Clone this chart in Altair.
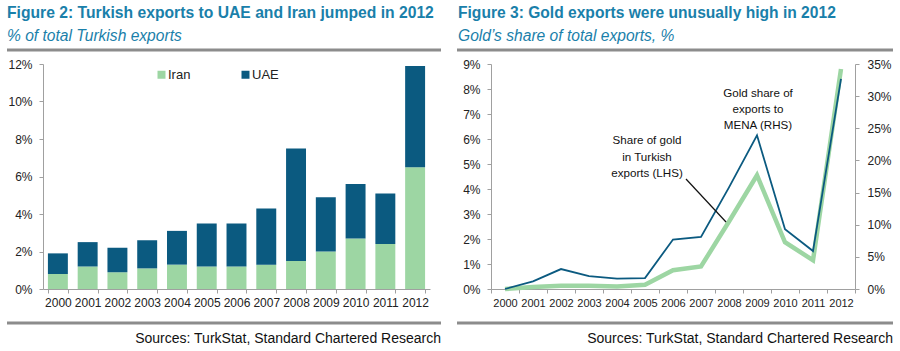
import altair as alt
import pandas as pd

# ---------------- data ----------------
years = [str(y) for y in range(2000, 2013)]
iran = [0.8, 1.2, 0.9, 1.1, 1.3, 1.2, 1.2, 1.3, 1.5, 2.0, 2.7, 2.4, 6.5]
uae = [1.1, 1.3, 1.3, 1.5, 1.8, 2.3, 2.3, 3.0, 6.0, 2.9, 2.9, 2.7, 5.4]
countries = ["Iran", "UAE"]

gold_total = [0.0, 0.08, 0.13, 0.13, 0.1, 0.17, 0.75, 0.9, 2.7, 4.55, 1.87, 1.15, 8.8]   # LHS
gold_mena = [0.0, 1.2, 3.1, 2.0, 1.6, 1.7, 7.7, 8.1, 15.8, 23.9, 9.3, 5.9, 32.7]         # RHS

left_ticks = [0, 2, 4, 6, 8, 10, 12]
lhs_ticks = [0, 1, 2, 3, 4, 5, 6, 7, 8, 9]
rhs_ticks = [0, 5, 10, 15, 20, 25, 30, 35]

title_left = "Figure 2: Turkish exports to UAE and Iran jumped in 2012"
subtitle_left = "% of total Turkish exports"
title_right = "Figure 3: Gold exports were unusually high in 2012"
subtitle_right = "Gold\u2019s share of total exports, %"
source = "Sources: TurkStat, Standard Chartered Research"
note_mena = ["Gold share of", "exports to", "MENA (RHS)"]
note_total = ["Share of gold", "in Turkish", "exports (LHS)"]

# ---------------- style ----------------
FONT = "Liberation Sans"
GREEN = "#9dd6a3"
BLUE = "#0b5a80"
TEAL = "#1a80aa"
GREY = "#8c8c8c"
AX = "#a0a0a0"

one = pd.DataFrame({"k": [0]})


def text(s, x, y, size, align="left", **kw):
    return alt.Chart(one).mark_text(
        text=s, font=FONT, fontSize=size, align=align, baseline="alphabetic", **kw
    ).encode(x=alt.value(x), y=alt.value(y))


def hrule(x1, x2, y, width=3):
    return alt.Chart(one).mark_rule(color=GREY, strokeWidth=width).encode(
        x=alt.value(x1), x2=alt.value(x2), y=alt.value(y)
    )


def bg(x1, x2, y1, y2):
    # invisible frame that fixes the panel's extent on the page
    return alt.Chart(one).mark_rect(fill="white", opacity=0).encode(
        x=alt.value(x1), x2=alt.value(x2), y=alt.value(y1), y2=alt.value(y2)
    )


# ---------------- left panel ----------------
bars_df = pd.DataFrame({
    "year": years * 2,
    "country": ["Iran"] * len(years) + ["UAE"] * len(years),
    "value": iran + uae,
    "ord": [0] * len(years) + [1] * len(years),
})

bars = alt.Chart(bars_df).mark_bar().encode(
    x=alt.X("year:N", sort=years,
            scale=alt.Scale(paddingInner=0.33, paddingOuter=0.165),
            axis=alt.Axis(title=None, labelAngle=0, tickBand="extent", labelFontSize=12,
                          tickSize=4, labelPadding=4)),
    y=alt.Y("value:Q", stack="zero", scale=alt.Scale(domain=[0, 12], nice=False),
            axis=alt.Axis(title=None, values=left_ticks, labelExpr="datum.value + '%'",
                          labelFontSize=12, tickSize=4, labelPadding=7)),
    color=alt.Color("country:N", scale=alt.Scale(domain=countries, range=[GREEN, BLUE]),
                    legend=alt.Legend(title=None, orient="none", legendX=112, legendY=4,
                                      direction="horizontal", symbolType="square",
                                      symbolSize=64, symbolStrokeWidth=0, labelFontSize=13,
                                      labelFont=FONT, labelColor="#222",
                                      columnPadding=48, symbolOffset=0, labelOffset=0)),
    order=alt.Order("ord:Q"),
)

left = alt.layer(
    bg(-43, 407, -64, 287),
    bars,
    text(title_left, -36, -46, 15.7, fontWeight="bold", color=TEAL),
    text(subtitle_left, -36, -23, 15.6, fontStyle="italic", color=TEAL),
    hrule(-36, 398, -14),
    hrule(-36, 398, 259),
    text(source, 398, 279, 14, align="right", color="#111"),
).properties(width=387, height=225)

# ---------------- right panel ----------------
gold_df = pd.DataFrame({"year": years, "total": gold_total, "mena": gold_mena})

xr = alt.X("year:N", sort=years, bandPosition=0.5,
           scale=alt.Scale(type="band", paddingInner=0, paddingOuter=0),
           axis=alt.Axis(title=None, labelAngle=0, tickBand="extent", labelFontSize=11,
                         tickSize=4, labelPadding=4))

green_line = alt.Chart(gold_df).mark_line(color=GREEN, strokeWidth=4.5).encode(
    x=xr,
    y=alt.Y("total:Q", scale=alt.Scale(domain=[0, 9], nice=False),
            axis=alt.Axis(orient="left", title=None, values=lhs_ticks,
                          labelExpr="datum.value + '%'", labelFontSize=12,
                          tickSize=4, labelPadding=7)),
)
blue_line = alt.Chart(gold_df).mark_line(color=BLUE, strokeWidth=1.8).encode(
    x=xr,
    y=alt.Y("mena:Q", scale=alt.Scale(domain=[0, 35], nice=False),
            axis=alt.Axis(orient="right", title=None, values=rhs_ticks,
                          labelExpr="datum.value + '%'", labelFontSize=12,
                          tickSize=4, labelPadding=8)),
)

right = alt.layer(
    bg(-41, 409, -64, 287),
    green_line,
    blue_line,
    text(note_mena, 267, 33, 11.6, align="center", color="#111", lineHeight=16),
    text(note_total, 156, 80, 11.6, align="center", color="#111", lineHeight=16.5),
    alt.Chart(one).mark_rule(color="#111", strokeWidth=1.2).encode(
        x=alt.value(195), y=alt.value(115), x2=alt.value(235), y2=alt.value(158)),
    text(title_right, -33, -46, 15.6, fontWeight="bold", color=TEAL),
    text(subtitle_right, -33, -23, 15.6, fontStyle="italic", color=TEAL),
    hrule(-34, 402, -14),
    hrule(-34, 402, 259),
    text(source, 402, 279, 14, align="right", color="#111"),
).resolve_scale(y="independent").properties(width=364, height=225)

chart = alt.hconcat(left, right, spacing=61, bounds="flush").properties(
    padding=0, background="white"
).configure_view(stroke=None).configure_axis(
    grid=False, domainColor=AX, tickColor=AX, labelColor="#222", labelFont=FONT,
    domainWidth=1, tickWidth=1
)

chart.save("out.html", embed_options={"renderer": "svg", "actions": False})
